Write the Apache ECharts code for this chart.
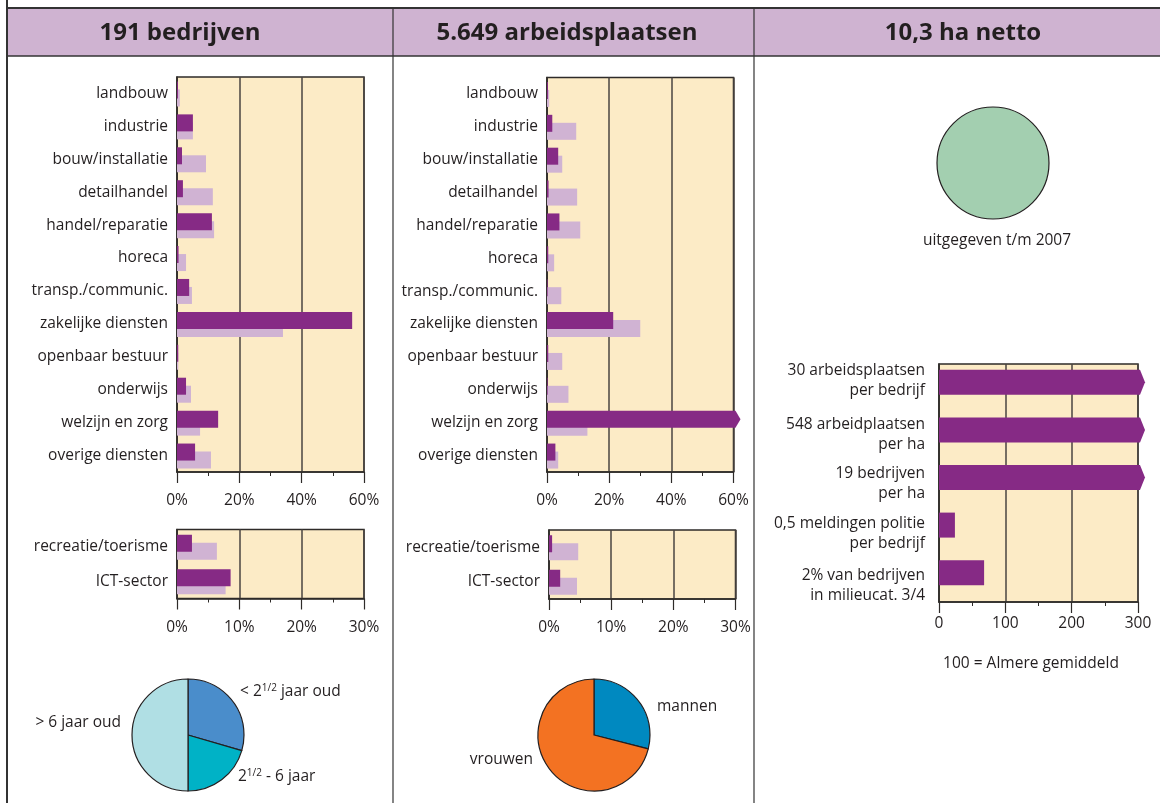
<!DOCTYPE html>
<html>
<head>
<meta charset="utf-8">
<script src="https://cdn.jsdelivr.net/npm/echarts@6/dist/echarts.min.js"></script>
<style>
  html, body { margin: 0; padding: 0; background: #ffffff; }
  #chart { width: 1160px; height: 803px; }
</style>
</head>
<body>
<div id="chart"></div>
<script>
// Sector profile of the business park: companies, jobs and land use.

const sectors = ['landbouw', 'industrie', 'bouw/installatie', 'detailhandel', 'handel/reparatie', 'horeca',
  'transp./communic.', 'zakelijke diensten', 'openbaar bestuur', 'onderwijs', 'welzijn en zorg', 'overige diensten'];
const extraSectors = ['recreatie/toerisme', 'ICT-sector'];

// share of companies (%) – this location vs. Almere
const bedrijvenLocatie = [0.3, 5.1, 1.6, 1.9, 11.2, 0.5, 3.9, 56.2, 0.4, 2.9, 13.2, 5.8];
const bedrijvenAlmere  = [0.9, 5.1, 9.3, 11.5, 11.9, 2.9, 4.8, 34.0, 0.4, 4.5, 7.4, 10.9];
const bedrijvenExtraLocatie = [2.4, 8.6];
const bedrijvenExtraAlmere  = [6.4, 7.8];

// share of jobs (%) – this location vs. Almere
const banenLocatie = [0.3, 1.7, 3.6, 0.5, 4.0, 0.4, 0.2, 21.3, 0.4, 0.2, 64, 2.7];
const banenAlmere  = [0.7, 9.4, 4.9, 9.7, 10.7, 2.3, 4.6, 30.0, 4.9, 6.9, 13.0, 3.6];
const banenExtraLocatie = [0.5, 1.8];
const banenExtraAlmere  = [4.7, 4.5];

// index figures (Almere average = 100)
const kengetallen = ['30 arbeidsplaatsen\nper bedrijf', '548 arbeidplaatsen\nper ha', '19 bedrijven\nper ha',
  '0,5 meldingen politie\nper bedrijf', '2% van bedrijven\nin milieucat. 3/4'];
const kengetallenIndex = [315, 330, 325, 24, 68];

// age of companies (%)
const leeftijdNamen = ['< 2½ jaar oud', '2½ - 6 jaar', '> 6 jaar oud'];
const leeftijdWaarden = [29.5, 20.5, 50];

// jobs by gender (%)
const geslachtNamen = ['mannen', 'vrouwen'];
const geslachtWaarden = [29, 71];

// land issued
const uitgegevenHa = 10.3;

const headers = ['191 bedrijven', '5.649 arbeidsplaatsen', '10,3 ha netto'];

const FONT = '"Open Sans", Roboto, sans-serif';
const FS = 15.5;
const TEXT = '#231f20';
const LINE = '#2e2b29';
const PURPLE = '#862a85';
const LILAC = '#d0b3d3';
const BEIGE = '#fcebc6';

// vertical nudges (px) for the two-line index labels (negative = up)
const kengetalNudge = [-7, -1, 1, 2.5, 7];

const chart = echarts.init(document.getElementById('chart'), null, { renderer: 'canvas' });

function gridBox(left, top, width, height) {
  return {
    left, top, width, height, show: true, backgroundColor: BEIGE,
    borderColor: LINE, borderWidth: 1.5, containLabel: false, outerBoundsMode: 'none'
  };
}

function valueAxis(gridIndex, max, interval, suffix, margin) {
  return {
    type: 'value', gridIndex, min: 0, max, interval,
    axisLine: { show: true, onZero: false, lineStyle: { color: LINE, width: 1.5 } },
    axisTick: { show: true, length: 11, lineStyle: { color: LINE, width: 1.2 } },
    minorTick: { show: true, splitNumber: 2, length: 4, lineStyle: { color: LINE, width: 1 } },
    splitLine: { show: true, lineStyle: { color: '#4a4540', width: 1.5 } },
    minorSplitLine: { show: false },
    axisLabel: { color: TEXT, fontSize: FS, fontFamily: FONT, margin, formatter: v => v + suffix }
  };
}

function categoryAxis(gridIndex, data, labelExtra) {
  return {
    type: 'category', gridIndex, data, inverse: true,
    axisLine: { show: true, lineStyle: { color: LINE, width: 1.5 } },
    axisTick: { show: false },
    splitLine: { show: false },
    axisLabel: Object.assign({
      color: TEXT, fontSize: FS, fontFamily: FONT, margin: 9,
      interval: 0, hideOverlap: false, showMinLabel: true, showMaxLabel: true
    }, labelExtra || {})
  };
}

// horizontal bar drawn through the axes; values past the axis end get an arrow tip
function barSeries(name, axisIndex, values, color, offset, height, axisMax, z) {
  return {
    type: 'custom', name, xAxisIndex: axisIndex, yAxisIndex: axisIndex, z, clip: false, silent: true,
    data: values.map((v, i) => [v, i]),
    encode: { x: 0, y: 1 },
    renderItem: (params, api) => {
      const v = api.value(0);
      const i = api.value(1);
      const start = api.coord([0, i]);
      const y0 = start[1] + offset - height / 2;
      const y1 = y0 + height;
      if (v > axisMax) {
        const xe = api.coord([axisMax, i])[0] + 2;
        return {
          type: 'polygon',
          shape: { points: [[start[0], y0], [xe, y0], [xe + 5, (y0 + y1) / 2], [xe, y1], [start[0], y1]] },
          style: { fill: color }
        };
      }
      const end = api.coord([v, i]);
      return {
        type: 'rect',
        shape: { x: start[0], y: y0, width: end[0] - start[0], height },
        style: { fill: color }
      };
    }
  };
}

// two-line index labels; an empty spacer line shifts a label up or down
const kengetalRich = { t: { fontSize: FS, fontFamily: FONT, color: TEXT, lineHeight: 20, align: 'right' } };
kengetalNudge.forEach((n, i) => {
  const h = Math.max(1, Math.abs(n) * 2);
  kengetalRich['g' + i] = { fontSize: 1, lineHeight: h, height: h };
});
function kengetalLabel(value, index) {
  const lines = value.split('\n').map(l => '{t|' + l + '}');
  const n = kengetalNudge[index];
  if (n < 0) lines.push('{g' + index + '| }');
  else if (n > 0) lines.unshift('{g' + index + '| }');
  return lines.join('\n');
}

const sup = { fontSize: 10, fontFamily: FONT, color: TEXT, verticalAlign: 'top', lineHeight: 18, padding: [0, 0, 3, 0] };
const norm = { fontSize: FS, fontFamily: FONT, color: TEXT, lineHeight: 18 };

const leeftijdLabels = ['{n|< 2}{s|1/2}{n| jaar oud}', '{n|2}{s|1/2}{n| - 6 jaar}', '{n|> 6 jaar oud}'];
const leeftijdLabelPos = [[240, 692, 'left'], [238, 777, 'left'], [121, 723, 'right']];
const geslachtLabelPos = [[657, 707, 'left'], [533, 760, 'right']];

function headerText(text, x) {
  return {
    type: 'text',
    style: {
      text, x, y: 33, textAlign: 'center', textVerticalAlign: 'middle', align: 'center', verticalAlign: 'middle',
      font: 'bold 24px ' + FONT, fill: TEXT
    }
  };
}

function noteText(text, x, y) {
  return {
    type: 'text',
    style: {
      text, x, y, textAlign: 'center', textVerticalAlign: 'middle', align: 'center', verticalAlign: 'middle',
      font: FS + 'px ' + FONT, fill: TEXT
    }
  };
}

const option = {
  animation: false,
  grid: [
    gridBox(177, 77, 187, 395),
    gridBox(177, 529.5, 187, 69),
    gridBox(547, 77.5, 186.5, 394.5),
    gridBox(549, 530, 186.5, 69),
    gridBox(939, 364, 199, 238)
  ],
  xAxis: [
    valueAxis(0, 60, 20, '%', 21),
    valueAxis(1, 30, 10, '%', 21),
    valueAxis(2, 60, 20, '%', 21),
    valueAxis(3, 30, 10, '%', 21),
    valueAxis(4, 300, 100, '', 14)
  ],
  yAxis: [
    categoryAxis(0, sectors),
    categoryAxis(1, extraSectors),
    categoryAxis(2, sectors),
    categoryAxis(3, extraSectors),
    categoryAxis(4, kengetallen, { margin: 14, align: 'right', formatter: kengetalLabel, rich: kengetalRich })
  ],
  graphic: [
    { type: 'rect', shape: { x: 7, y: 8, width: 1153, height: 48 }, style: { fill: '#cfb3d1' }, silent: true },
    { type: 'line', shape: { x1: 7, y1: 8, x2: 1160, y2: 8 }, style: { stroke: '#333', lineWidth: 2 } },
    { type: 'line', shape: { x1: 7, y1: 56, x2: 1160, y2: 56 }, style: { stroke: '#333', lineWidth: 1.5 } },
    { type: 'line', shape: { x1: 7, y1: 0, x2: 7, y2: 803 }, style: { stroke: '#333', lineWidth: 2 } },
    { type: 'line', shape: { x1: 393, y1: 8, x2: 393, y2: 803 }, style: { stroke: '#333', lineWidth: 1.2 } },
    { type: 'line', shape: { x1: 754, y1: 8, x2: 754, y2: 803 }, style: { stroke: '#333', lineWidth: 1.2 } },
    headerText(headers[0], 180),
    headerText(headers[1], 567),
    headerText(headers[2], 963),
    noteText('uitgegeven t/m 2007', 997, 241),
    noteText('100 = Almere gemiddeld', 1031, 664)
  ],
  series: [
    barSeries('Almere', 0, bedrijvenAlmere, LILAC, 4.5, 17, 60, 2),
    barSeries('locatie', 0, bedrijvenLocatie, PURPLE, -3.5, 17, 60, 3),
    barSeries('Almere', 1, bedrijvenExtraAlmere, LILAC, 4.5, 17, 30, 2),
    barSeries('locatie', 1, bedrijvenExtraLocatie, PURPLE, -3.5, 17, 30, 3),
    barSeries('Almere', 2, banenAlmere, LILAC, 4.5, 17, 60, 2),
    barSeries('locatie', 2, banenLocatie, PURPLE, -3.5, 17, 60, 3),
    barSeries('Almere', 3, banenExtraAlmere, LILAC, 4.5, 17, 30, 2),
    barSeries('locatie', 3, banenExtraLocatie, PURPLE, -3.5, 17, 30, 3),
    barSeries('index', 4, kengetallenIndex, PURPLE, -5.5, 25, 300, 3),
    {
      type: 'pie', center: [993, 163], radius: 56, silent: true,
      data: [{ name: 'uitgegeven', value: uitgegevenHa }],
      itemStyle: { color: '#a3cfb0', borderColor: TEXT, borderWidth: 1.2 },
      label: { show: false }, labelLine: { show: false }
    },
    {
      type: 'pie', center: [188, 735], radius: 56, startAngle: 90, clockwise: true, silent: true,
      data: leeftijdNamen.map((n, i) => ({ name: n, value: leeftijdWaarden[i] })),
      color: ['#4a8dcb', '#00b2c6', '#b0dfe4'],
      itemStyle: { borderColor: TEXT, borderWidth: 1.2 },
      label: {
        show: true, position: 'outside', overflow: 'none', width: 200,
        formatter: p => leeftijdLabels[p.dataIndex],
        rich: { n: norm, s: sup }
      },
      labelLine: { show: false },
      labelLayout: p => {
        const pos = leeftijdLabelPos[p.dataIndex];
        return { x: pos[0], y: pos[1], align: pos[2], verticalAlign: 'middle', hideOverlap: false };
      }
    },
    {
      type: 'pie', center: [594, 735], radius: 56, startAngle: 90, clockwise: true, silent: true,
      data: geslachtNamen.map((n, i) => ({ name: n, value: geslachtWaarden[i] })),
      color: ['#0089c0', '#f37222'],
      itemStyle: { borderColor: TEXT, borderWidth: 1.2 },
      label: { show: true, position: 'outside', overflow: 'none', formatter: '{b}', color: TEXT, fontSize: FS, fontFamily: FONT },
      labelLine: { show: false },
      labelLayout: p => {
        const pos = geslachtLabelPos[p.dataIndex];
        return { x: pos[0], y: pos[1], align: pos[2], verticalAlign: 'middle', hideOverlap: false };
      }
    }
  ]
};

chart.setOption(option);
</script>
</body>
</html>
